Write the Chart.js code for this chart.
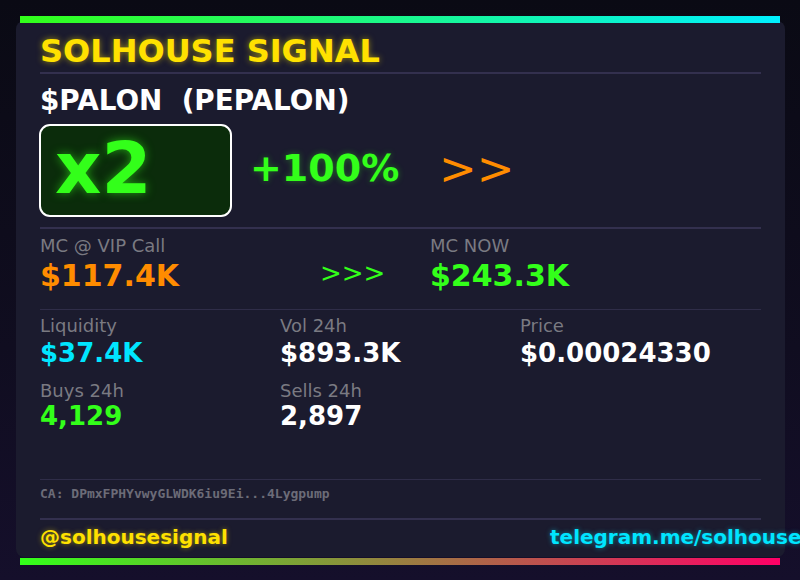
<!DOCTYPE html>
<html>
<head>
<meta charset="utf-8">
<script src="https://cdn.jsdelivr.net/npm/chart.js@4.4.1/dist/chart.umd.min.js"></script>
<style>
  html, body { margin: 0; padding: 0; }
  body {
    width: 800px; height: 580px; overflow: hidden; position: relative;
    background: linear-gradient(180deg, #0a0a14 0%, #100d20 60%, #150f2b 100%);
    font-family: "DejaVu Sans", sans-serif;
  }
  .abs { position: absolute; white-space: nowrap; line-height: 1; }
  #card {
    position: absolute; left: 16px; top: 21px; width: 769px; height: 536px;
    background: #1b1b2e; border-radius: 8px;
  }
  .sep { position: absolute; left: 40px; width: 721px; background: #33304e; }
  .strip { position: absolute; left: 20px; width: 760px; height: 7px; }
</style>
</head>
<body>
<div id="card"></div>
<div class="strip" style="top:16px"><canvas id="topStrip"></canvas></div>
<div class="strip" style="top:558px"><canvas id="bottomStrip"></canvas></div>

<div class="sep" style="top:72px;height:2px"></div>
<div class="sep" style="top:227px;height:2px"></div>
<div class="sep" style="top:309px;height:1px;background:#2f2d48"></div>
<div class="sep" style="top:479px;height:1px;background:#2f2d48"></div>
<div class="sep" style="top:518px;height:2px"></div>

<div id="content"></div>

<script>
// ---- data ----
const brand = "SOLHOUSE SIGNAL";
const tokenLine = "$PALON\u00a0\u00a0(PEPALON)";
const multiplier = "x2";
const gainText = "+100%";
const mcLabels = ["MC @ VIP Call", "MC NOW"];
const mcValues = ["$117.4K", "$243.3K"];
const statLabels = ["Liquidity", "Vol 24h", "Price", "Buys 24h", "Sells 24h"];
const statValues = ["$37.4K", "$893.3K", "$0.00024330", "4,129", "2,897"];
const contractText = "CA: DPmxFPHYvwyGLWDK6iu9Ei...4Lygpump";
const footerLeft = "@solhousesignal";
const footerRight = "telegram.me/solhouse";
const stripLabels = ["strip"];
const stripValues = [1];
const topStripColors = ["#33ff1a", "#00f0ff"];
const bottomStripColors = ["#33ff1a", "#ff0066"];

// ---- layout ----
const c = document.getElementById("content");
function txt(s, left, top, style) {
  const d = document.createElement("div");
  d.className = "abs";
  d.textContent = s;
  d.style.left = left + "px";
  d.style.top = top + "px";
  Object.assign(d.style, style || {});
  c.appendChild(d);
  return d;
}

txt(brand, 40, 34.5, { fontSize: "32px", fontWeight: "bold", color: "#ffe100",
  textShadow: "0 0 6px rgba(255,225,0,0.55)" });
txt(tokenLine, 40, 86.5, { fontSize: "27.8px", fontWeight: "bold", color: "#ffffff" });

// multiplier box
const box = document.createElement("div");
Object.assign(box.style, { position: "absolute", left: "39px", top: "124px", width: "193px", height: "93px",
  boxSizing: "border-box", border: "2px solid #ffffff", borderRadius: "11px", background: "#0b2c0b" });
c.appendChild(box);
txt(multiplier, 55, 132, { fontSize: "72px", fontWeight: "bold", color: "#33ff1a",
  textShadow: "0 0 10px rgba(51,255,26,0.55)" });
txt(gainText, 250, 149.4, { fontSize: "38px", fontWeight: "bold", color: "#33ff1a",
  textShadow: "0 0 6px rgba(51,255,26,0.35)" });
txt(">>", 439, 146, { fontSize: "45px", color: "#ff8c00" });

// MC row
txt(mcLabels[0], 40, 236.8, { fontSize: "18px", color: "#7a7a82" });
txt(mcValues[0], 40, 261.3, { fontSize: "30px", fontWeight: "bold", color: "#ff8c00" });
txt(">>>", 320, 260, { fontSize: "26px", color: "#33ff1a" });
txt(mcLabels[1], 430, 236.8, { fontSize: "18px", color: "#7a7a82" });
txt(mcValues[1], 430, 261.3, { fontSize: "30px", fontWeight: "bold", color: "#33ff1a" });

// stats grid
const statCols = [40, 280, 520, 40, 280];
const statLabelTops = [316.8, 316.8, 316.8, 381.5, 381.5];
const statValueTops = [340, 340, 340, 403, 403];
const statColors = ["#00e5ff", "#ffffff", "#ffffff", "#33ff1a", "#ffffff"];
statLabels.forEach((l, i) => {
  txt(l, statCols[i], statLabelTops[i], { fontSize: "18px", color: "#7a7a82" });
  txt(statValues[i], statCols[i], statValueTops[i], { fontSize: "26px", fontWeight: "bold", color: statColors[i] });
});

txt(contractText, 40, 487, { fontSize: "13px", fontWeight: "bold", color: "#6c6c78",
  fontFamily: "'DejaVu Sans Mono', monospace" });
txt(footerLeft, 40, 527, { fontSize: "20px", fontWeight: "bold", color: "#ffe100",
  textShadow: "0 0 5px rgba(255,225,0,0.5)" });
txt(footerRight, 550, 527, { fontSize: "20px", fontWeight: "bold", color: "#00e5ff",
  textShadow: "0 0 5px rgba(0,229,255,0.5)" });

// ---- gradient strips drawn with Chart.js ----
function makeStrip(id, colors) {
  return new Chart(document.getElementById(id), {
    type: "bar",
    data: {
      labels: stripLabels,
      datasets: [{
        data: stripValues,
        barPercentage: 1,
        categoryPercentage: 1,
        borderWidth: 0,
        backgroundColor: (ctx) => {
          const ch = ctx.chart;
          const a = ch.chartArea;
          if (!a) return colors[0];
          const g = ch.ctx.createLinearGradient(a.left, 0, a.right, 0);
          g.addColorStop(0, colors[0]);
          g.addColorStop(1, colors[1]);
          return g;
        }
      }]
    },
    options: {
      indexAxis: "y",
      responsive: true,
      maintainAspectRatio: false,
      animation: false,
      layout: { padding: 0 },
      scales: {
        x: { display: false, min: 0, max: 1 },
        y: { display: false }
      },
      plugins: { legend: { display: false }, tooltip: { enabled: false } }
    }
  });
}
makeStrip("topStrip", topStripColors);
makeStrip("bottomStrip", bottomStripColors);
</script>
</body>
</html>
